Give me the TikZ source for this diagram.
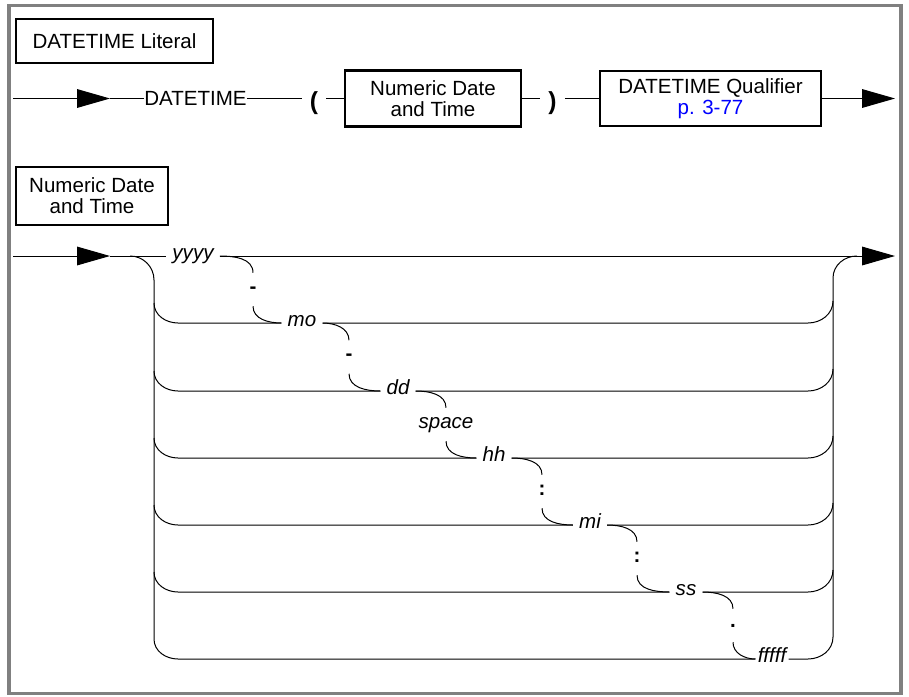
\documentclass[tikz,border=0pt]{standalone}
\usepackage{fontspec}
\setmainfont{Liberation Sans}
\usetikzlibrary{arrows.meta}
\definecolor{framegray}{RGB}{128,128,128}
\definecolor{linkblue}{RGB}{0,0,255}
\newcommand{\railfont}{\fontsize{15.4pt}{15.8pt}\selectfont}
\tikzset{
	rail/.style={line width=0.75pt},
	railarrow/.style={rail, -{Triangle[length=24.75pt,width=14pt]}},
	kw/.style={inner sep=0pt},
	paren/.style={font=\fontsize{18.5pt}{20pt}\selectfont\bfseries, inner xsep=6pt, inner ysep=0pt},
	syntbox/.style={draw, line width=2.2pt, inner sep=0pt, align=center},
	item/.style={font=\railfont\itshape, inner xsep=4.5pt, inner ysep=0pt, text height=1ex, text depth=0pt},
	sepmark/.style={font=\railfont\bfseries, inner sep=0pt, minimum height=24.75pt, text height=1ex, text depth=0pt}
}
\begin{document}
\begin{tikzpicture}[x=0.75pt, y=0.75pt, font=\railfont]
				\useasboundingbox (0,0) rectangle (909,-696);
				\draw[framegray, line width=2.6pt] (9,-5.5) rectangle (901,-693.5);
				% DATETIME Literal
				\node[syntbox, minimum width=147.75pt, minimum height=33pt] (lit) at (114.5,-41) {DATETIME Literal};
				\coordinate (s1) at (13,-98.5);
				\coordinate (a1) at (110,-98.5);
				\coordinate (e1) at (895,-98.5);
				\node[kw] (dt) at (195.5,-98.5) {DATETIME};
				\node[paren] (lp) at (314,-103) {(};
				\node[syntbox, minimum width=132pt, minimum height=42pt] (ndt) at (433,-98.5) {Numeric Date\\and Time};
				\node[paren] (rp) at (552.5,-103) {)};
				\node[syntbox, minimum width=165.75pt, minimum height=41.25pt] (qual) at (710.5,-98.5) {DATETIME Qualifier\\\textcolor{linkblue}{p. 3-77}};
				\draw[railarrow] (s1) -- (a1);
				\draw[rail] (a1) -- (dt.west);
				\draw[rail] (dt.east) -- (dt.east -| lp.west);
				\draw[rail] (lp.east |- ndt.west) -- (ndt.west);
				\draw[rail] (ndt.east) -- (ndt.east -| rp.west);
				\draw[rail] (rp.east |- qual.west) -- (qual.west);
				\draw[railarrow] (qual.east) -- (e1);
				% Numeric Date and Time
				\node[syntbox, minimum width=114pt, minimum height=43.5pt] (ndtt) at (92,-196) {Numeric Date\\and Time};
				\coordinate (s2) at (13,-256);
				\coordinate (a2) at (110,-256);
				\coordinate (lj) at (130,-256);
				\coordinate (rj) at (857,-256);
				\coordinate (e2) at (895,-256);
				\node[item] (yyyy) at (193,-256) {yyyy};
				\node[sepmark] (d1) at (253,-289.5) {-};
				\node[item] (mo) at (302,-323) {mo};
				\node[sepmark] (d2) at (349,-357) {-};
				\node[item] (dd) at (398,-391) {dd};
				\node[sepmark, font=\railfont\itshape] (sp) at (446,-424.5) {space};
				\node[item] (hh) at (494,-458) {hh};
				\node[sepmark] (c1) at (542,-491.5) {:};
				\node[item] (mi) at (590,-525) {mi};
				\node[sepmark] (c2) at (637,-558.5) {:};
				\node[item] (ss) at (686,-592) {ss};
				\node[sepmark, text height=2.3pt] (pt) at (733,-625.5) {.};
				\node[item, inner xsep=1.5pt] (ff) at (772,-659) {fffff};
				\draw[railarrow] (s2) -- (a2);
				\draw[rail] (a2) -- (yyyy.west);
				\draw[railarrow] (yyyy.east) -- (e2);
				% left and right rails
				\draw[rail] (lj) to[out=0,in=90] (154,-280) -- (154,-639) to[out=-90,in=180] (178,-659) -- (ff.west);
				\draw[rail] (833,-637) -- (833,-278) to[out=90,in=180] (rj);
				\foreach \n/\y in {mo/323,dd/391,hh/458,mi/525,ss/592}
					\draw[rail] (154,{-\y+20}) to[out=-90,in=180] (178,-\y) -- (\n.west);
				\foreach \n/\y in {mo/323,dd/391,hh/458,mi/525,ss/592,ff/659}
					\draw[rail] (\n.east) -- (808,-\y) to[out=0,in=-90] (833,{-\y+22});
				% separators
				\foreach \a/\s/\b in {yyyy/d1/mo,mo/d2/dd,dd/sp/hh,hh/c1/mi,mi/c2/ss,ss/pt/ff}
					\draw[rail] (\a.east) to[out=0,in=90] (\s.north) (\s.south) to[out=-90,in=180] (\b.west);
			\end{tikzpicture}
\end{document}
